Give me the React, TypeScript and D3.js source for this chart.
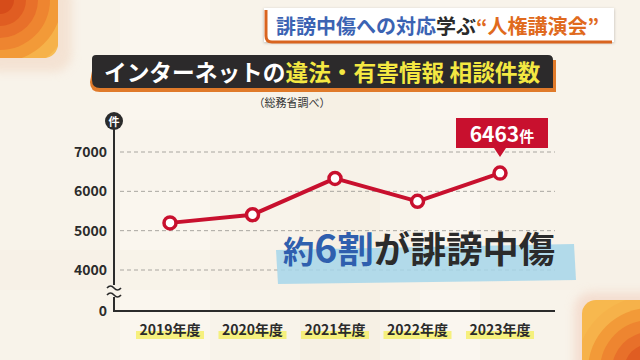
import React from "react";
import * as d3 from "d3";

const years = ["2019年度", "2020年度", "2021年度", "2022年度", "2023年度"];
const counts = [5198, 5407, 6329, 5745, 6463];
const yTicks = [4000, 5000, 6000, 7000];
const highlightLabel = "6463件";

const W = 640;
const H = 360;
const FONT = "'Noto Sans CJK JP', 'Noto Sans', sans-serif";

export default function App() {
  const x = d3.scalePoint<string>().domain(years).range([170, 500]);
  const y = d3.scaleLinear().domain([4000, 7000]).range([270, 152]);
  const line = d3
    .line<number>()
    .x((_, i) => x(years[i]) as number)
    .y((d) => y(d));
  const zeroY = 311;
  const axisX = 114;
  const lastX = x(years[years.length - 1]) as number;

  const rings = [74, 62, 50, 38, 26, 14];
  const ringColors = ["#f6b24a", "#f29a38", "#ee8530", "#e8702a", "#e05d22", "#d64c1a"];

  return (
    <svg
      width={W}
      height={H}
      viewBox={`0 0 ${W} ${H}`}
      style={{ position: "absolute", left: 0, top: 0, display: "block" }}
      fontFamily={FONT}
    >
      <defs>
        <clipPath id="tl">
          <rect x={-20} y={-20} width={78} height={78} rx={14} />
        </clipPath>
        <clipPath id="br">
          <rect x={582} y={300} width={80} height={80} rx={14} />
        </clipPath>
        <filter id="blur" x="-50%" y="-50%" width="200%" height="200%">
          <feGaussianBlur stdDeviation="5" />
        </filter>
        <filter id="sh" x="-10%" y="-30%" width="120%" height="160%">
          <feDropShadow dx="0" dy="1" stdDeviation="1.5" floodColor="#000" floodOpacity="0.25" />
        </filter>
      </defs>

      {/* background */}
      <rect x={0} y={0} width={W} height={H} fill="#f8f3ea" />
      <rect x={120} y={0} width={90} height={360} fill="#faf6ee" />
      <rect x={300} y={90} width={80} height={270} fill="#f6f0e4" />
      <rect x={420} y={0} width={60} height={360} fill="#faf6ef" />
      <rect x={0} y={120} width={640} height={70} fill="#f9f4eb" opacity={0.6} />
      <rect x={0} y={250} width={640} height={40} fill="#f5efe3" opacity={0.5} />

      {/* top-left decoration */}
      <rect x={-20} y={-20} width={92} height={92} rx={18} fill="#f2d8c4" opacity={0.6} filter="url(#blur)" />
      <g clipPath="url(#tl)">
        <rect x={-20} y={-20} width={80} height={80} fill="#f7bd55" />
        {rings.map((r, i) => (
          <circle key={i} cx={0} cy={0} r={r} fill={ringColors[i]} />
        ))}
      </g>

      {/* bottom-right decoration */}
      <rect x={574} y={292} width={90} height={90} rx={18} fill="#f2d0c0" opacity={0.6} filter="url(#blur)" />
      <g clipPath="url(#br)">
        <rect x={582} y={300} width={80} height={80} fill="#f7b84e" />
        {rings.map((r, i) => (
          <circle key={i} cx={650} cy={370} r={r} fill={ringColors[i]} />
        ))}
      </g>

      {/* headline */}
      <g filter="url(#sh)">
        <rect x={264} y={8} width={350} height={34} fill="#ffffff" />
      </g>
      <path d="M 266 10 L 266 36 Q 266 42 272 42 L 612 42" fill="none" stroke="#d9641f" strokeWidth={3} />
      <text x={276} y={33.5} fontSize={20} fontWeight={700}>
        <tspan fill="#3b63b3">誹謗中傷への対応</tspan>
        <tspan fill="#2b2b2b">学ぶ</tspan>
        <tspan fill="#e06a1d">“人権講演会”</tspan>
      </text>

      {/* title banner */}
      <path d="M 94 60 L 556 60 L 556 92 L 100 92 Q 90 92 90 82 Z" fill="#e07a2a" />
      <path d="M 96 55 L 548 55 Q 553 55 553 60 L 553 88 L 100 88 Q 92 88 92 80 L 92 59 Q 92 55 96 55 Z" fill="#2c2a2b" />
      <text x={104} y={80.5} fontSize={22.7} fontWeight={700}>
        <tspan fill="#ffffff">インターネットの</tspan>
        <tspan fill="#f4e842">違法・有害情報 相談件数</tspan>
      </text>
      <text x={292} y={107} fontSize={11} fill="#333" textAnchor="middle">
        （総務省調べ）
      </text>

      {/* grid */}
      {yTicks.map((t) => (
        <line
          key={t}
          x1={axisX + 6}
          x2={555}
          y1={y(t)}
          y2={y(t)}
          stroke="#a9a6a0"
          strokeWidth={1}
          strokeDasharray="4 3"
        />
      ))}

      {/* y tick labels */}
      {yTicks.map((t) => (
        <text key={t} x={107} y={y(t) + 5} fontSize={14} fontWeight={700} fill="#2b2b2b" textAnchor="end">
          {t}
        </text>
      ))}
      <text x={107} y={zeroY + 5} fontSize={14} fontWeight={700} fill="#2b2b2b" textAnchor="end">
        0
      </text>

      {/* axes */}
      <line x1={axisX} x2={axisX} y1={122} y2={zeroY} stroke="#2b2b2b" strokeWidth={2} />
      <line x1={axisX - 1} x2={555} y1={zeroY} y2={zeroY} stroke="#2b2b2b" strokeWidth={2} />
      <rect x={axisX - 8} y={285} width={16} height={12} fill="#f8f3ea" />
      {[288, 295].map((yy) => (
        <path
          key={yy}
          d={`M ${axisX - 7} ${yy} q 3.5 -4 7 0 t 7 0`}
          fill="none"
          stroke="#2b2b2b"
          strokeWidth={1.6}
        />
      ))}
      <circle cx={axisX} cy={121} r={9} fill="#2b2b2b" />
      <text x={axisX} y={125.5} fontSize={11} fontWeight={700} fill="#ffffff" textAnchor="middle">
        件
      </text>

      {/* x labels */}
      {years.map((yr) => (
        <g key={yr}>
          <rect x={(x(yr) as number) - 34} y={331} width={68} height={8} fill="#f4ef6a" opacity={0.85} />
          <text x={x(yr) as number} y={335} fontSize={14} fontWeight={700} fill="#2b2b2b" textAnchor="middle">
            {yr}
          </text>
        </g>
      ))}

      {/* line */}
      <path d={line(counts) || ""} fill="none" stroke="#c8102e" strokeWidth={4} strokeLinejoin="round" />
      {counts.map((c, i) => (
        <circle key={i} cx={x(years[i]) as number} cy={y(c)} r={6} fill="#ffffff" stroke="#c8102e" strokeWidth={3.5} />
      ))}

      {/* callout */}
      <path
        d={`M ${lastX - 44} 118 L ${lastX + 48} 118 L ${lastX + 48} 148 L ${lastX + 6} 148 L ${lastX} 157 L ${lastX - 6} 148 L ${lastX - 44} 148 Z`}
        fill="#c8102e"
      />
      <text x={lastX + 2} y={142} fontSize={21} fontWeight={700} fill="#ffffff" textAnchor="middle">
        {highlightLabel.replace("件", "")}
        <tspan fontSize={15}>件</tspan>
      </text>

      {/* annotation */}
      <path d="M 276 250 L 574 244 L 576 280 L 278 284 Z" fill="#a6d6ea" opacity={0.85} />
      <text x={283} y={263} fontSize={36} fontWeight={700} textLength={272} lengthAdjust="spacingAndGlyphs">
        <tspan fill="#2f5fae" fontSize={31}>約</tspan>
        <tspan fill="#2f5fae" fontSize={39}>6</tspan>
        <tspan fill="#2f5fae">割</tspan>
        <tspan fill="#2b2b2b">が誹謗中傷</tspan>
      </text>
    </svg>
  );
}
